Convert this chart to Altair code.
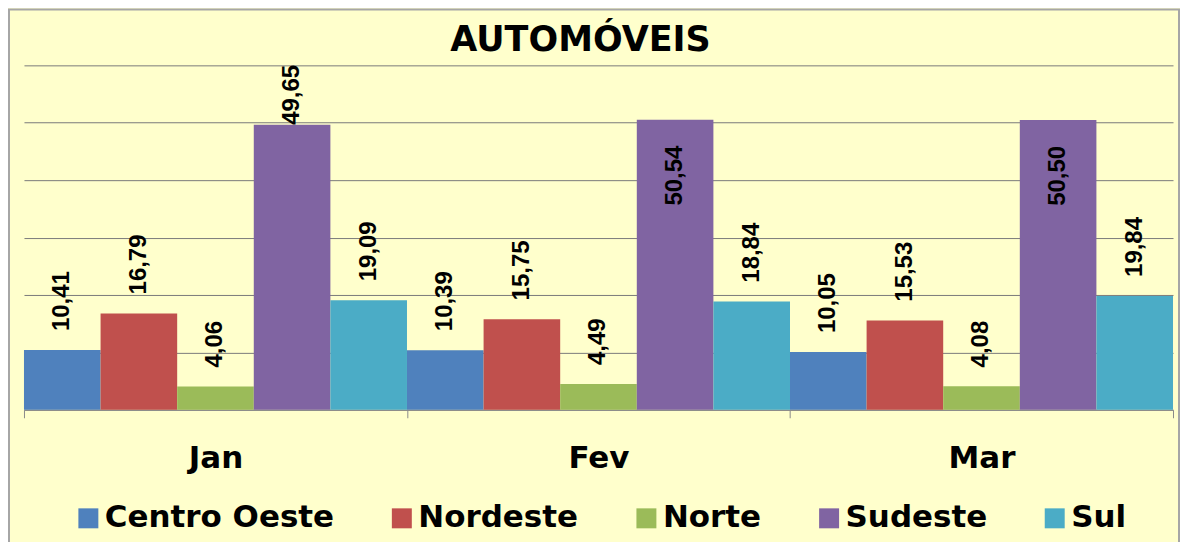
import altair as alt
import pandas as pd

# ---- data ----
meses = ["Jan", "Fev", "Mar"]
regioes = ["Centro Oeste", "Nordeste", "Norte", "Sudeste", "Sul"]
centro_oeste = [10.41, 10.39, 10.05]
nordeste = [16.79, 15.75, 15.53]
norte = [4.06, 4.49, 4.08]
sudeste = [49.65, 50.54, 50.50]
sul = [19.09, 18.84, 19.84]
cores = ["#4F81BD", "#C0504D", "#9BBB59", "#8064A2", "#4BACC6"]

series = {
    "Centro Oeste": centro_oeste,
    "Nordeste": nordeste,
    "Norte": norte,
    "Sudeste": sudeste,
    "Sul": sul,
}
rows = [
    {"Mes": m, "Regiao": r, "Valor": series[r][i]}
    for r in regioes
    for i, m in enumerate(meses)
]
df = pd.DataFrame(rows)

W, H = 1151, 345
FONT = "DejaVu Sans"

x = alt.X(
    "Mes:N",
    sort=meses,
    scale=alt.Scale(paddingInner=0, paddingOuter=0),
    axis=alt.Axis(
        title=None,
        labelAngle=0,
        labelFont=FONT,
        labelFontSize=31,
        labelFontWeight="bold",
        labelColor="black",
        labelBaseline="alphabetic",
        labelPadding=50,
        tickSize=8,
        tickColor="#8a8a8a",
        domainColor="#8a8a8a",
        tickBand="extent",
        grid=False,
    ),
)
xo = alt.XOffset(
    "Regiao:N", sort=regioes, scale=alt.Scale(paddingInner=0, paddingOuter=0)
)
y = alt.Y(
    "Valor:Q",
    scale=alt.Scale(domain=[0, 60], nice=False, zero=True),
    axis=alt.Axis(
        title=None,
        labels=False,
        ticks=False,
        domain=False,
        values=[0, 10, 20, 30, 40, 50, 60],
        gridColor="#7a7a7a",
        gridWidth=1,
    ),
)
color = alt.Color(
    "Regiao:N",
    sort=regioes,
    scale=alt.Scale(domain=regioes, range=cores),
    legend=alt.Legend(
        title=None,
        orient="none",
        legendX=49,
        legendY=438,
        direction="horizontal",
        columns=5,
        symbolType="square",
        symbolSize=400,
        symbolStrokeWidth=0,
        symbolOpacity=1,
        labelFont=FONT,
        labelFontSize=31,
        labelFontWeight="bold",
        labelColor="black",
        labelOffset=1,
        labelLimit=500,
        columnPadding=52,
    ),
)

base = alt.Chart(df)

bars = base.mark_bar().encode(x=x, xOffset=xo, y=y, color=color)

lbl = base.transform_calculate(
    rotulo="replace(format(datum.Valor, '.2f'), '.', ',')"
)
txt_kw = dict(angle=270, baseline="middle", font="Liberation Sans",
              fontSize=24, fontWeight="bold", color="black")

labels_out = lbl.transform_filter("datum.Valor < 45").mark_text(
    align="left", dx=19, **txt_kw
).encode(x=x, xOffset=xo, y=y, text="rotulo:N")

labels_top = lbl.transform_filter("datum.Valor >= 45 && datum.Valor < 50").mark_text(
    align="left", dx=0, **txt_kw
).encode(x=x, xOffset=xo, y=y, text="rotulo:N")

labels_in = lbl.transform_filter("datum.Valor >= 50").mark_text(
    align="right", dx=-26, **txt_kw
).encode(x=x, xOffset=xo, y=y, text="rotulo:N")

frame = alt.Chart(pd.DataFrame({"f": [0]})).mark_rect(
    fillOpacity=0, stroke="#a6a6a6", strokeWidth=2
).encode(
    x=alt.value(-15), x2=alt.value(W + 6), y=alt.value(-56), y2=alt.value(H + 200)
)

chart = (
    alt.layer(bars, labels_out, labels_top, labels_in, frame)
    .properties(
        width=W,
        height=H,
        padding={"left": 16, "top": 57, "right": 7, "bottom": 132},
        autosize=alt.AutoSizeParams(type="none"),
        title=alt.TitleParams(
            "AUTOMÓVEIS",
            font=FONT,
            fontSize=35,
            fontWeight="bold",
            color="black",
            anchor="middle",
            dx=-18,
            offset=-78,
            baseline="alphabetic",
        ),
    )
    .configure(background="#FFFFCC")
    .configure_view(stroke=None)
)

chart.save("out.html", embed_options={"renderer": "svg", "actions": False})
